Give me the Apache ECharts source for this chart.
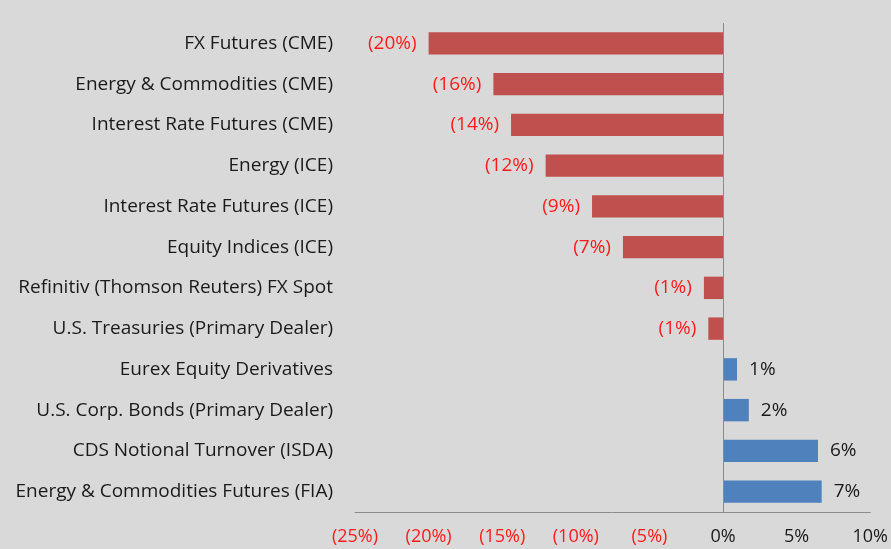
<!DOCTYPE html>
<html>
<head>
<meta charset="utf-8">
<script src="https://cdn.jsdelivr.net/npm/echarts@6/dist/echarts.min.js"></script>
<style>
  html, body { margin: 0; padding: 0; background: #d9d9d9; }
  #chart { width: 891px; height: 549px; }
</style>
</head>
<body>
<div id="chart"></div>
<script>
// top to bottom, as in the picture
var categories = [
    'FX Futures (CME)',
    'Energy & Commodities (CME)',
    'Interest Rate Futures (CME)',
    'Energy (ICE)',
    'Interest Rate Futures (ICE)',
    'Equity Indices (ICE)',
    'Refinitiv (Thomson Reuters) FX Spot',
    'U.S. Treasuries (Primary Dealer)',
    'Eurex Equity Derivatives',
    'U.S. Corp. Bonds (Primary Dealer)',
    'CDS Notional Turnover (ISDA)',
    'Energy & Commodities Futures (FIA)'
];
var changes = [-20.0, -15.6, -14.4, -12.05, -8.9, -6.8, -1.3, -1.0, 0.95, 1.75, 6.45, 6.7];
var xTicks = {min: -25, max: 10, step: 5};

var red = '#c0504d', blue = '#4f81bd';
var fontFamily = '"Open Sans", Lato, sans-serif';

function pct(v) {
    var r = Math.round(Math.abs(v));
    return v < 0 ? '(' + r + '%)' : r + '%';
}

var chart = echarts.init(document.getElementById('chart'));

var option = {
    backgroundColor: '#d9d9d9',
    animation: false,
    grid: {left: 355, right: 20, top: 23, bottom: 37, containLabel: false},
    xAxis: {
        type: 'value',
        min: xTicks.min,
        max: xTicks.max,
        interval: xTicks.step,
        splitLine: {show: false},
        axisTick: {show: false},
        axisLine: {show: true, onZero: false, lineStyle: {color: '#8c8c8c', width: 1}},
        axisLabel: {
            margin: 16,
            fontSize: 18,
            fontFamily: fontFamily,
            formatter: function (v) { return pct(v); },
            color: function (v) { return v < 0 ? '#ff1a1a' : '#1a1a1a'; }
        }
    },
    yAxis: {
        type: 'category',
        inverse: true,
        data: categories,
        axisLine: {show: false},
        axisTick: {show: false},
        axisLabel: {
            margin: 22,
            fontSize: 19,
            fontFamily: fontFamily,
            color: '#1a1a1a'
        }
    },
    series: [{
        type: 'bar',
        barWidth: '55%',
        data: changes.map(function (v) {
            return {
                value: v,
                itemStyle: {color: v < 0 ? red : blue},
                label: {
                    position: v < 0 ? 'left' : 'right',
                    color: v < 0 ? '#ff1a1a' : '#1a1a1a'
                }
            };
        }),
        label: {
            show: true,
            distance: 12,
            fontSize: 19,
            fontFamily: fontFamily,
            formatter: function (p) { return pct(p.value); }
        },
        markLine: {
            silent: true,
            symbol: 'none',
            label: {show: false},
            lineStyle: {color: '#8c8c8c', type: 'solid', width: 1},
            data: [{xAxis: 0}]
        }
    }]
};

chart.setOption(option);
</script>
</body>
</html>
